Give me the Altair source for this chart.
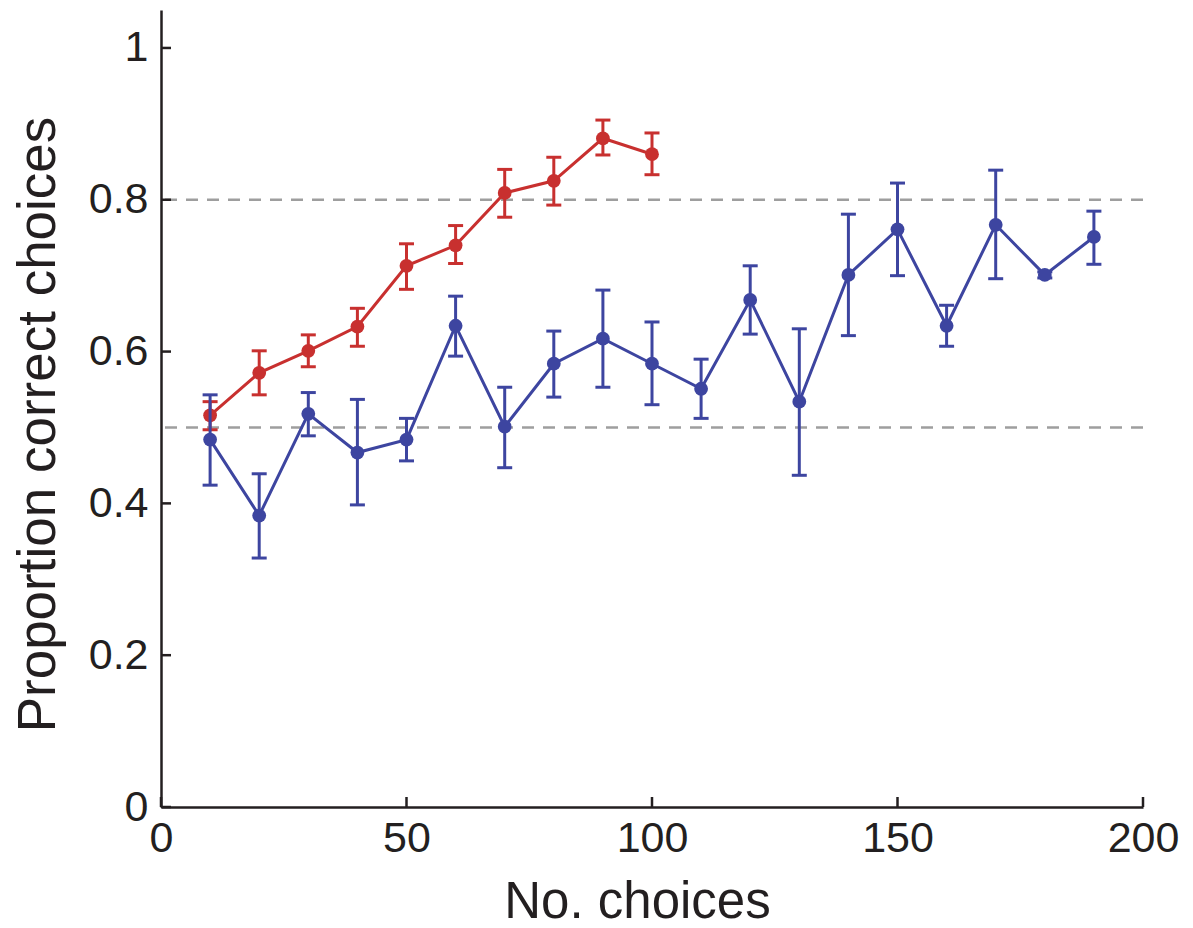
import altair as alt
import pandas as pd

# Data
red_x = [10, 20, 30, 40, 50, 60, 70, 80, 90, 100]
red_y = [0.516, 0.572, 0.601, 0.633, 0.713, 0.740, 0.809, 0.825, 0.881, 0.860]
red_lo = [0.497, 0.543, 0.580, 0.607, 0.682, 0.716, 0.777, 0.793, 0.859, 0.833]
red_hi = [0.534, 0.601, 0.622, 0.657, 0.742, 0.766, 0.840, 0.856, 0.905, 0.888]

blue_x = [10, 20, 30, 40, 50, 60, 70, 80, 90, 100, 110, 120, 130, 140, 150, 160, 170, 180, 190]
blue_y = [0.484, 0.384, 0.518, 0.467, 0.484, 0.634, 0.501, 0.584, 0.617, 0.584, 0.551,
          0.668, 0.534, 0.701, 0.761, 0.634, 0.767, 0.701, 0.751]
blue_lo = [0.424, 0.328, 0.489, 0.398, 0.456, 0.594, 0.447, 0.540, 0.553, 0.530, 0.512,
           0.623, 0.437, 0.621, 0.700, 0.607, 0.696, 0.697, 0.715]
blue_hi = [0.543, 0.439, 0.546, 0.537, 0.512, 0.673, 0.553, 0.627, 0.681, 0.639, 0.590,
           0.713, 0.630, 0.781, 0.822, 0.661, 0.839, 0.705, 0.785]

ref_lines = [0.5, 0.8]
x_ticks = [0, 50, 100, 150, 200]
y_ticks = [0, 0.2, 0.4, 0.6, 0.8, 1.0]

RED = "#C8302F"
BLUE = "#3D45A0"
AXIS = "#231F20"
FONT = "Liberation Sans"

W, H = 982, 797

red = pd.DataFrame({"x": red_x, "y": red_y, "lo": red_lo, "hi": red_hi})
blue = pd.DataFrame({"x": blue_x, "y": blue_y, "lo": blue_lo, "hi": blue_hi})

xs = alt.Scale(domain=[0, 200], nice=False, zero=False)
ys = alt.Scale(domain=[0, 1.05], nice=False, zero=False)

x_axis = alt.Axis(values=x_ticks, ticks=False, grid=False, domainColor=AXIS, domainWidth=2.5,
                  labelFont=FONT, labelFontSize=43, labelColor=AXIS, labelPadding=10,
                  labelFlush=False,
                  title="No. choices", titleFont=FONT, titleFontSize=51, titleFontWeight="normal",
                  titleColor=AXIS, titleX=476, titleY=110, titleBaseline="alphabetic",
                  titleAnchor="start", titleAlign="center")
y_axis = alt.Axis(values=y_ticks, ticks=False, grid=False, domainColor=AXIS, domainWidth=2.5,
                  format="~g",
                  labelFont=FONT, labelFontSize=43, labelColor=AXIS, labelPadding=13,
                  labelFlush=False,
                  title="Proportion correct choices", titleFont=FONT, titleFontSize=53,
                  titleFontWeight="normal", titleColor=AXIS, titleAngle=-90,
                  titleX=-107, titleY=414, titleBaseline="alphabetic", titleAlign="center",
                  titleAnchor="start")


def X(field):
    return alt.X(field, scale=xs, axis=x_axis)


def Y(field):
    return alt.Y(field, scale=ys, axis=y_axis)


ytick_layer = alt.Chart(pd.DataFrame({"v": y_ticks})).mark_rule(color=AXIS, strokeWidth=2.5).encode(
    y=Y("v:Q"), x=alt.value(0), x2=alt.value(10)
)
xtick_layer = alt.Chart(pd.DataFrame({"v": x_ticks})).mark_rule(color=AXIS, strokeWidth=2.5).encode(
    x=X("v:Q"), y=alt.value(H), y2=alt.value(H - 10)
)

dash_layer = alt.Chart(pd.DataFrame({"v": ref_lines})).mark_rule(
    color="#9E9E9E", strokeWidth=2.4, strokeDash=[12, 9]
).encode(y=Y("v:Q"))


def series(df, color):
    base = alt.Chart(df)
    bars = base.mark_rule(color=color, strokeWidth=3).encode(
        x=X("x:Q"), y=Y("lo:Q"), y2="hi:Q")
    cap_lo = base.mark_tick(color=color, orient="horizontal", size=15, thickness=3, opacity=1).encode(
        x=X("x:Q"), y=Y("lo:Q"))
    cap_hi = base.mark_tick(color=color, orient="horizontal", size=15, thickness=3, opacity=1).encode(
        x=X("x:Q"), y=Y("hi:Q"))
    line = base.mark_line(color=color, strokeWidth=3).encode(
        x=X("x:Q"), y=Y("y:Q"))
    pts = base.mark_point(color=color, filled=True, opacity=1, size=190).encode(
        x=X("x:Q"), y=Y("y:Q"))
    return [bars, cap_lo, cap_hi, line, pts]


layers = [dash_layer, ytick_layer, xtick_layer] + series(red, RED) + series(blue, BLUE)

chart = alt.layer(*layers).properties(
    width=W, height=H,
    autosize=alt.AutoSizeParams(type="none"),
    padding={"left": 153, "top": 2, "right": 42, "bottom": 121},
    background="white",
).configure_view(stroke=None)

chart.save("out.html", embed_options={"renderer": "svg", "actions": False})
